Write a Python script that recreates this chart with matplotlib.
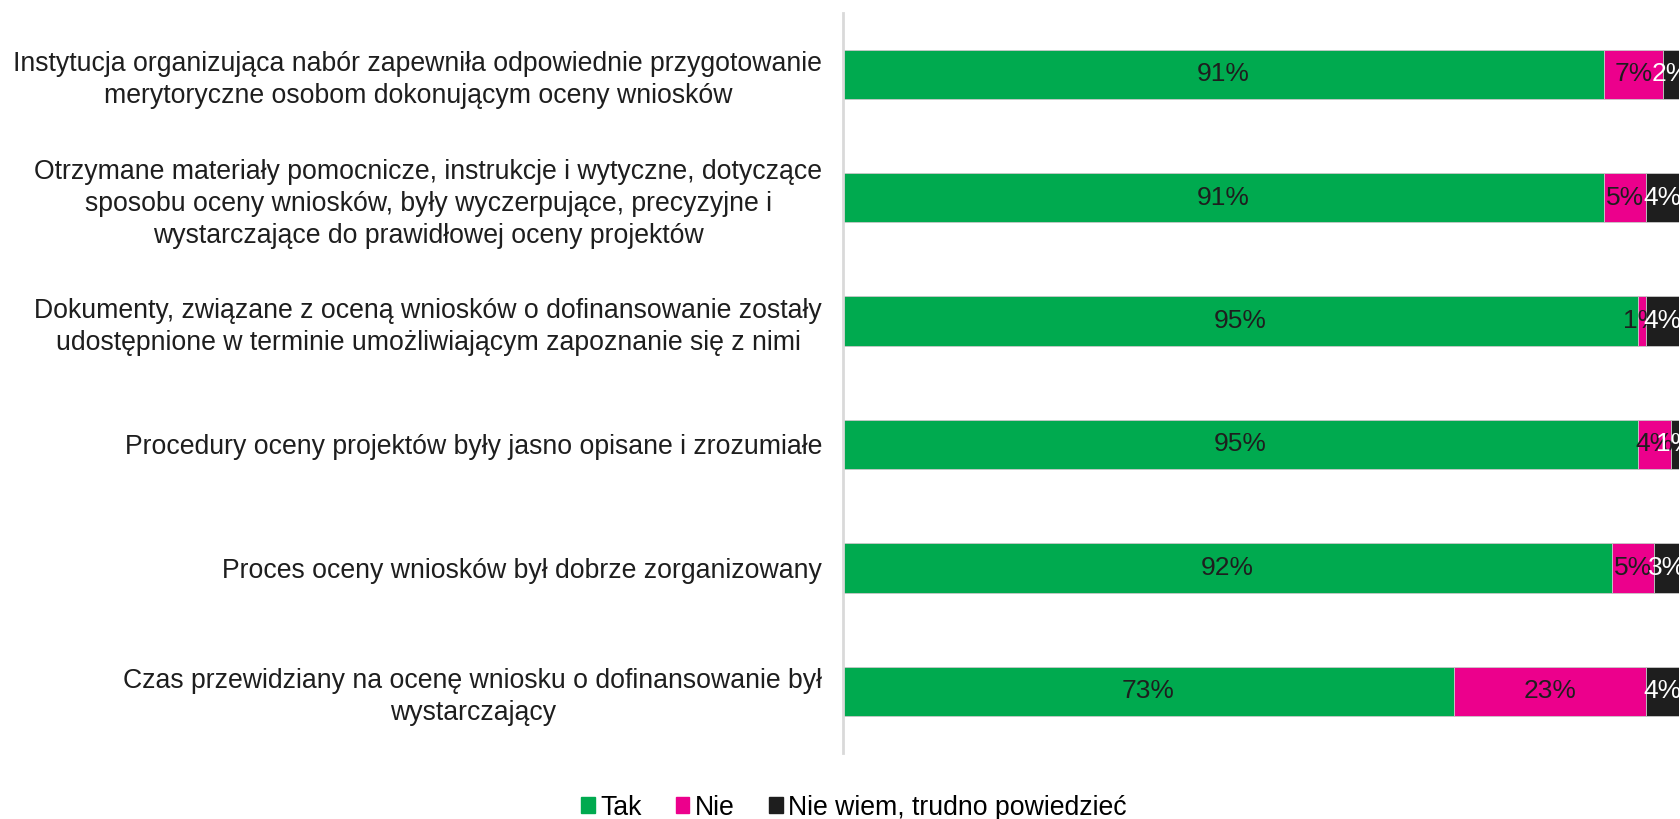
import matplotlib.pyplot as plt
from matplotlib.patches import Patch

plt.rcParams['font.family'] = ['Liberation Sans', 'DejaVu Sans']

categories = [
    "Instytucja organizująca nabór zapewniła odpowiednie przygotowanie\nmerytoryczne osobom dokonującym oceny wniosków",
    "Otrzymane materiały pomocnicze, instrukcje i wytyczne, dotyczące\nsposobu oceny wniosków, były wyczerpujące, precyzyjne i\nwystarczające do prawidłowej oceny projektów",
    "Dokumenty, związane z oceną wniosków o dofinansowanie zostały\nudostępnione w terminie umożliwiającym zapoznanie się z nimi",
    "Procedury oceny projektów były jasno opisane i zrozumiałe",
    "Proces oceny wniosków był dobrze zorganizowany",
    "Czas przewidziany na ocenę wniosku o dofinansowanie był\nwystarczający",
]
tak = [91, 91, 95, 95, 92, 73]
nie = [7, 5, 1, 4, 5, 23]
nie_wiem = [2, 4, 4, 1, 3, 4]

series = ["Tak", "Nie", "Nie wiem, trudno powiedzieć"]
colors = ["#00AA4F", "#EC008C", "#1E1E1E"]
text_colors = ["#1E1E1E", "#1E1E1E", "white"]

fig = plt.figure(figsize=(16.81, 8.19), dpi=100)
ax = fig.add_axes([0.5015, 0.0806, 0.4975, 0.904])

y = list(range(len(categories)))
left = [0] * len(categories)
for vals, col, tcol in zip([tak, nie, nie_wiem], colors, text_colors):
    bars = ax.barh(y, vals, left=left, height=0.4, color=col,
                   edgecolor="#c8c8c8", linewidth=0.6)
    for b, v in zip(bars, vals):
        ax.text(b.get_x() + b.get_width() / 2, b.get_y() + b.get_height() / 2,
                f"{v}%", ha="center", va="center", fontsize=19, color=tcol)
    left = [l + v for l, v in zip(left, vals)]

ax.set_xlim(0, 100)
ax.set_ylim(len(categories) - 0.5, -0.5)
ax.set_yticks(y)
ax.set_yticklabels(categories, fontsize=19.2, color="#1E1E1E", linespacing=1.3)
for lab in ax.get_yticklabels():
    lab.set_multialignment("center")
ax.tick_params(axis="y", length=0, pad=15)
ax.set_xticks([])
for s in ["top", "right", "bottom"]:
    ax.spines[s].set_visible(False)
ax.spines["left"].set_color("#d9d9d9")
ax.spines["left"].set_linewidth(2)

handles = [Patch(facecolor=c, edgecolor=c) for c in colors]
fig.legend(handles, series, loc="center", bbox_to_anchor=(0.508, 0.014),
           ncol=3, frameon=False, fontsize=19.2, handlelength=0.5,
           handleheight=0.5, handletextpad=0.2, columnspacing=1.3)

fig.savefig("out.png", dpi=100)
